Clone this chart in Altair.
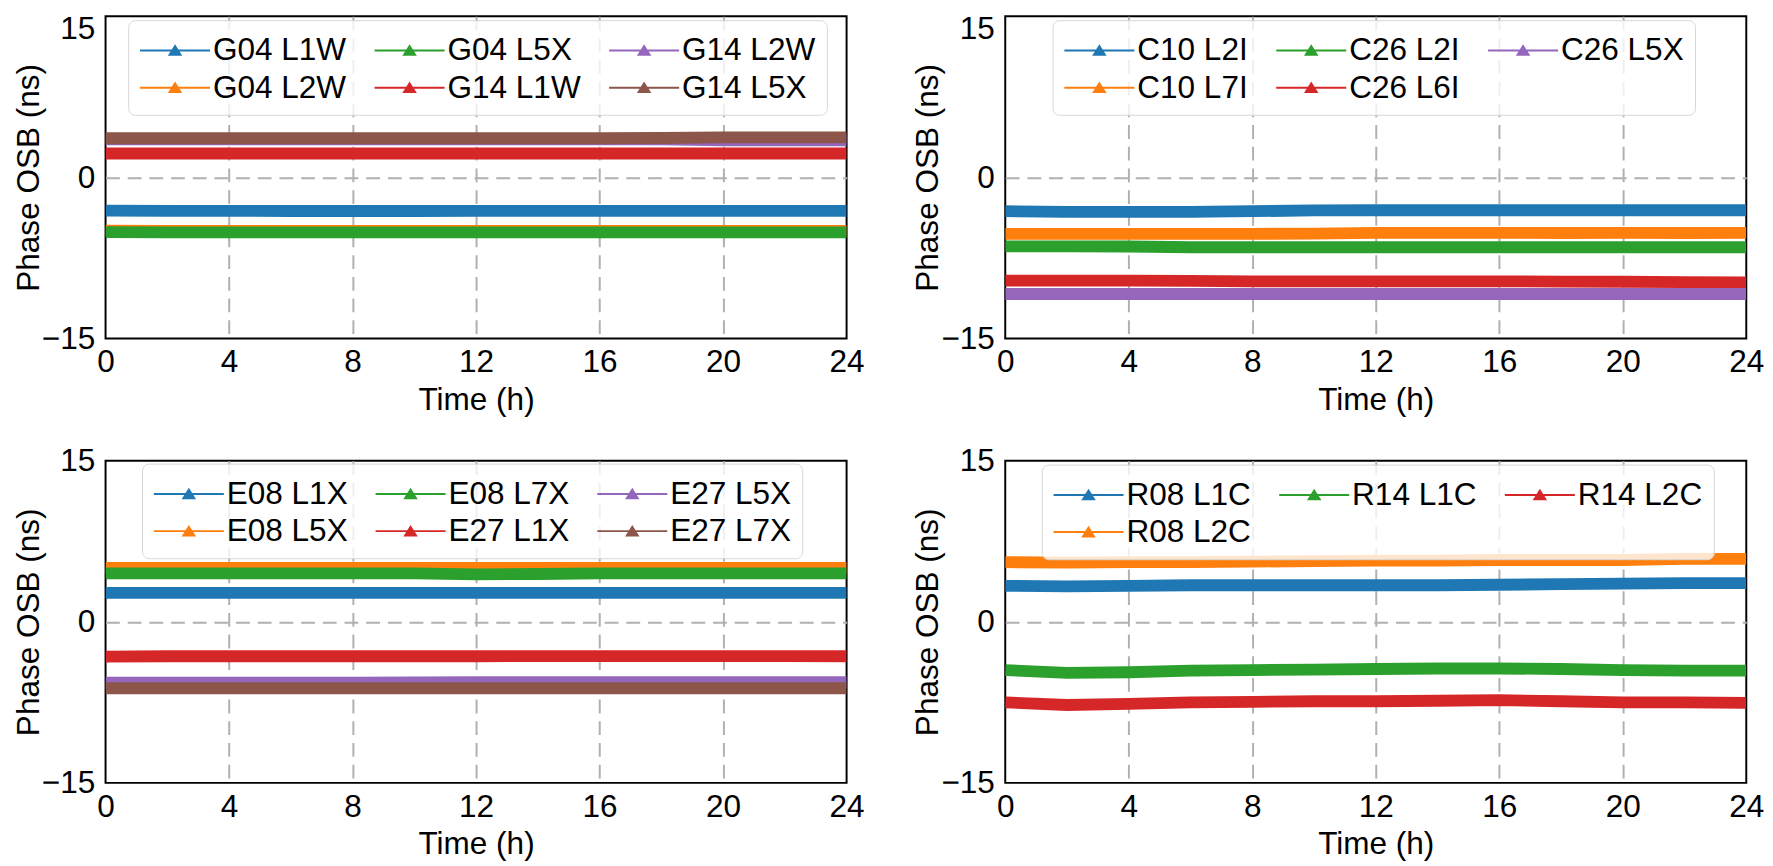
import altair as alt
import pandas as pd

TIMES = [0, 2, 4, 6, 8, 10, 12, 14, 16, 18, 20, 22, 24]

TAB_BLUE, TAB_ORANGE, TAB_GREEN = "#1f77b4", "#ff7f0e", "#2ca02c"
TAB_RED, TAB_PURPLE, TAB_BROWN = "#d62728", "#9467bd", "#8c564b"

# ---- GPS (top-left) ----
G_NAMES = ["G04 L1W", "G04 L2W", "G04 L5X", "G14 L1W", "G14 L2W", "G14 L5X"]
G_COLORS = [TAB_BLUE, TAB_ORANGE, TAB_GREEN, TAB_RED, TAB_PURPLE, TAB_BROWN]
G04_L1W = [-3.10, -3.12, -3.12, -3.13, -3.13, -3.13, -3.12, -3.12, -3.12, -3.12, -3.12, -3.12, -3.12]
G04_L2W = [-4.96, -4.98, -4.98, -4.99, -4.99, -4.98, -4.98, -4.98, -4.98, -4.98, -4.98, -4.98, -4.98]
G04_L5X = [-5.10, -5.12, -5.12, -5.13, -5.13, -5.12, -5.12, -5.12, -5.12, -5.12, -5.12, -5.12, -5.12]
G14_L1W = [2.22, 2.22, 2.22, 2.22, 2.22, 2.22, 2.22, 2.22, 2.22, 2.22, 2.22, 2.22, 2.22]
G14_L2W = [3.55, 3.55, 3.55, 3.55, 3.55, 3.55, 3.55, 3.55, 3.55, 3.55, 3.45, 3.45, 3.45]
G14_L5X = [3.64, 3.64, 3.64, 3.64, 3.64, 3.64, 3.64, 3.64, 3.64, 3.66, 3.72, 3.72, 3.72]
G_SERIES = [G04_L1W, G04_L2W, G04_L5X, G14_L1W, G14_L2W, G14_L5X]

# ---- BDS (top-right) ----
C_NAMES = ["C10 L2I", "C10 L7I", "C26 L2I", "C26 L6I", "C26 L5X"]
C_COLORS = [TAB_BLUE, TAB_ORANGE, TAB_GREEN, TAB_RED, TAB_PURPLE]
C10_L2I = [-3.15, -3.21, -3.21, -3.21, -3.15, -3.08, -3.06, -3.06, -3.06, -3.06, -3.06, -3.06, -3.06]
C10_L7I = [-5.26, -5.26, -5.26, -5.26, -5.26, -5.24, -5.17, -5.17, -5.17, -5.18, -5.17, -5.18, -5.17]
C26_L2I = [-6.42, -6.42, -6.44, -6.51, -6.51, -6.51, -6.51, -6.51, -6.51, -6.51, -6.51, -6.51, -6.51]
C26_L6I = [-9.62, -9.62, -9.62, -9.64, -9.68, -9.68, -9.68, -9.68, -9.68, -9.70, -9.72, -9.75, -9.77]
C26_L5X = [-10.86, -10.86, -10.86, -10.86, -10.86, -10.86, -10.86, -10.86, -10.86, -10.86, -10.86, -10.86, -10.86]
C_SERIES = [C10_L2I, C10_L7I, C26_L2I, C26_L6I, C26_L5X]

# ---- Galileo (bottom-left) ----
E_NAMES = ["E08 L1X", "E08 L5X", "E08 L7X", "E27 L1X", "E27 L5X", "E27 L7X"]
E_COLORS = [TAB_BLUE, TAB_ORANGE, TAB_GREEN, TAB_RED, TAB_PURPLE, TAB_BROWN]
E08_L1X = [2.69, 2.69, 2.69, 2.69, 2.69, 2.69, 2.69, 2.69, 2.69, 2.69, 2.69, 2.69, 2.69]
E08_L5X = [5.02, 5.02, 5.02, 5.02, 5.02, 5.02, 5.02, 5.02, 5.02, 5.02, 5.02, 5.02, 5.02]
E08_L7X = [4.51, 4.51, 4.51, 4.51, 4.51, 4.51, 4.42, 4.45, 4.51, 4.51, 4.51, 4.51, 4.51]
E27_L1X = [-3.25, -3.21, -3.21, -3.21, -3.21, -3.21, -3.21, -3.20, -3.20, -3.20, -3.20, -3.20, -3.21]
E27_L5X = [-5.66, -5.66, -5.66, -5.66, -5.66, -5.64, -5.63, -5.63, -5.63, -5.63, -5.63, -5.63, -5.63]
E27_L7X = [-6.19, -6.19, -6.19, -6.19, -6.19, -6.19, -6.19, -6.19, -6.19, -6.19, -6.19, -6.19, -6.19]
E_SERIES = [E08_L1X, E08_L5X, E08_L7X, E27_L1X, E27_L5X, E27_L7X]

# ---- GLONASS (bottom-right) ----
R_NAMES = ["R08 L1C", "R08 L2C", "R14 L1C", "R14 L2C"]
R_COLORS = [TAB_BLUE, TAB_ORANGE, TAB_GREEN, TAB_RED]
R08_L1C = [3.35, 3.30, 3.35, 3.40, 3.40, 3.40, 3.40, 3.40, 3.45, 3.50, 3.55, 3.60, 3.60]
R08_L2C = [5.55, 5.50, 5.55, 5.55, 5.60, 5.65, 5.70, 5.70, 5.75, 5.75, 5.75, 5.85, 5.85]
R14_L1C = [-4.50, -4.75, -4.70, -4.55, -4.50, -4.45, -4.40, -4.35, -4.35, -4.40, -4.50, -4.55, -4.55]
R14_L2C = [-7.50, -7.75, -7.65, -7.50, -7.45, -7.40, -7.40, -7.35, -7.30, -7.40, -7.50, -7.50, -7.55]
R_SERIES = [R08_L1C, R08_L2C, R14_L1C, R14_L2C]

X_TICKS = [0, 4, 8, 12, 16, 20, 24]
Y_TICKS = [-15, 0, 15]

FONT = "Liberation Sans"
PW, PH = 752, 327

# legend handle: a thin line with a filled-looking triangle marker in its middle
HANDLE = ("M-1,0L2.84,0"
          "M0.62,0.24L0.92,-0.24L1.22,0.24Z"
          "M0.6825,0.14L1.1575,0.14"
          "M0.745,0.04L1.095,0.04"
          "M0.8075,-0.06L1.0325,-0.06"
          "M0.87,-0.16L0.97,-0.16")


def column_major(names, ncol=3):
    """Order entries so a row-by-row legend reads like matplotlib's column fill."""
    n = len(names)
    nrow = -(-n // ncol)
    cols = []
    base, extra = divmod(n, ncol)
    idx = 0
    for c in range(ncol):
        cnt = base + (1 if c < extra else 0)
        cols.append(names[idx:idx + cnt])
        idx += cnt
    out = []
    for r in range(nrow):
        for c in range(ncol):
            if r < len(cols[c]):
                out.append(cols[c][r])
    return out


def panel(names, series, colors, lx, ly, top_shift):
    rows = []
    for n, vals in zip(names, series):
        for t, v in zip(TIMES, vals):
            rows.append({"t": t, "v": v, "s": n})
    df = pd.DataFrame(rows)
    order = column_major(names)
    rng = [colors[names.index(n)] for n in order]
    color = alt.Color(
        "s:N",
        scale=alt.Scale(domain=order, range=rng),
        legend=alt.Legend(
            title=None, orient="none", legendX=lx, legendY=ly, columns=3,
            direction="horizontal",
            columnPadding=24, rowPadding=2, symbolType=HANDLE, symbolSize=1369,
            symbolStrokeWidth=2, labelFont=FONT, labelFontSize=32,
            labelColor="black", labelOffset=36, labelLimit=400, padding=11,
            strokeColor="#d5d5d5", fillColor="rgba(255,255,255,0.8)",
            cornerRadius=7,
        ),
    )
    x = alt.X("t:Q", scale=alt.Scale(domain=[0, 24], nice=False),
              axis=alt.Axis(values=X_TICKS, title="Time (h)", labelFlush=False,
                            labelPadding=9, titlePadding=7,
                            gridOpacity={"condition": {"test": "datum.value > 0 && datum.value < 24",
                                                       "value": 1}, "value": 0}))
    y = alt.Y("v:Q", scale=alt.Scale(domain=[-15, 15], nice=False),
              axis=alt.Axis(values=Y_TICKS, title="Phase OSB (ns)",
                            labelPadding=11, titlePadding=-4,
                            labelOffset={"condition": {"test": "datum.value == 15",
                                                       "value": top_shift}, "value": 0},
                            gridOpacity={"condition": {"test": "datum.value == 0",
                                                       "value": 1}, "value": 0}))
    layers = []
    for n in names:
        layers.append(
            alt.Chart(df).transform_filter(alt.datum.s == n)
            .mark_line(strokeWidth=12, clip=True)
            .encode(x=x, y=y, color=color)
        )
    return alt.layer(*layers).properties(width=PW, height=PH)


def indep(c):
    return c.resolve_scale(color="independent").resolve_legend(color="independent")


top = indep(alt.hconcat(panel(G_NAMES, G_SERIES, G_COLORS, 23, 4, 13),
                        panel(C_NAMES, C_SERIES, C_COLORS, 48, 4, 13), spacing=46))
bottom = indep(alt.hconcat(panel(E_NAMES, E_SERIES, E_COLORS, 37, 3, 0),
                           panel(R_NAMES, R_SERIES, R_COLORS, 37, 4, 0), spacing=46))

chart = (
    indep(alt.vconcat(top, bottom, spacing=28))
    .properties(padding={"left": 3, "top": -2, "right": 0, "bottom": 0},
                background="white")
    .configure_axis(
        labelFont=FONT, labelFontSize=32, labelColor="black",
        titleFont=FONT, titleFontSize=32, titleFontWeight="normal", titleColor="black",
        grid=True, gridColor="#b0b0b0", gridDash=[14, 8], gridWidth=2,
        domain=False, ticks=False,
    )
    .configure_view(stroke="black", strokeWidth=2)
)

chart.save("out.html", embed_options={"renderer": "svg", "actions": False})
